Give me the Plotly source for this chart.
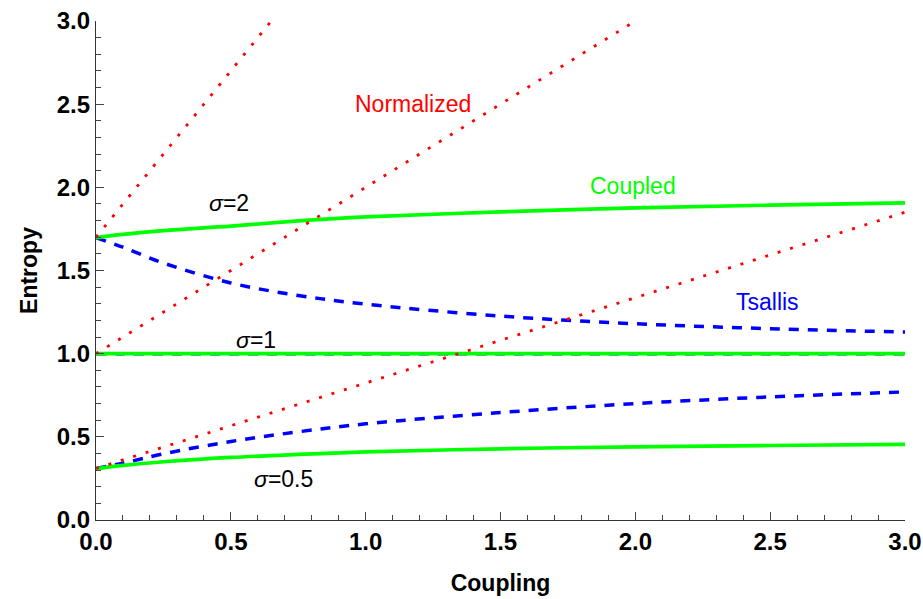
import plotly.graph_objects as go

# Coupling values at which the curves were read
kappa = [0.0, 0.1, 0.25, 0.5, 0.75, 1.0, 1.5, 2.0, 2.5, 3.0]

# Coupled entropy (green, solid)
coupled_s2 = [1.697, 1.717, 1.740, 1.767, 1.798, 1.822, 1.852, 1.876, 1.893, 1.907]
coupled_s1 = [1.0, 1.0, 1.0, 1.0, 1.0, 1.0, 1.0, 1.0, 1.0, 1.0]
coupled_s05 = [0.308, 0.328, 0.350, 0.376, 0.394, 0.409, 0.428, 0.440, 0.448, 0.455]

# Tsallis entropy (blue, dashed)
tsallis_s2 = [1.697, 1.640, 1.545, 1.425, 1.350, 1.298, 1.226, 1.180, 1.150, 1.130]
tsallis_s1 = [1.0, 1.0, 1.0, 1.0, 1.0, 1.0, 1.0, 1.0, 1.0, 1.0]
tsallis_s05 = [0.310, 0.342, 0.398, 0.472, 0.530, 0.578, 0.646, 0.700, 0.740, 0.770]

# Normalized entropy (red, dotted) - straight lines
norm_s2_x = [0.0, 0.65]
norm_s2_y = [1.70, 3.0]
norm_s1_x = [0.0, 2.0]
norm_s1_y = [1.0, 3.0]
norm_s05_x = [0.0, 3.0]
norm_s05_y = [0.31, 1.85]

GREEN = "#00ff00"
BLUE = "#0000ff"
RED = "#ff0000"

fig = go.Figure()

for ys in (tsallis_s2, tsallis_s1, tsallis_s05):
    fig.add_trace(go.Scatter(x=kappa, y=ys, mode="lines",
                             line=dict(color=BLUE, width=3.5, dash="10px,9px", shape="spline"),
                             showlegend=False, hoverinfo="skip"))

for ys in (coupled_s2, coupled_s1, coupled_s05):
    fig.add_trace(go.Scatter(x=kappa, y=ys, mode="lines",
                             line=dict(color=GREEN, width=3.7, shape="spline"),
                             showlegend=False, hoverinfo="skip"))

for xs, ys in ((norm_s2_x, norm_s2_y), (norm_s1_x, norm_s1_y), (norm_s05_x, norm_s05_y)):
    fig.add_trace(go.Scatter(x=xs, y=ys, mode="lines",
                             line=dict(color=RED, width=2.8, dash="3px,10px"),
                             showlegend=False, hoverinfo="skip"))

FONT = "Liberation Sans, Arial, sans-serif"

annotations = [
    dict(x=1.175, y=2.50, text="Normalized", color=RED),
    dict(x=1.993, y=2.01, text="Coupled", color=GREEN),
    dict(x=2.49, y=1.31, text="Tsallis", color=BLUE),
    dict(x=0.495, y=1.905, text="<i>σ</i>=2", color="black"),
    dict(x=0.593, y=1.085, text="<i>σ</i>=1", color="black"),
    dict(x=0.697, y=0.244, text="<i>σ</i>=0.5", color="black"),
]
for a in annotations:
    fig.add_annotation(x=a["x"], y=a["y"], text=a["text"], showarrow=False,
                       xanchor="center", yanchor="middle",
                       font=dict(family=FONT, size=23, color=a["color"]))

axis_common = dict(
    range=[0, 3],
    automargin=False,
    showgrid=False,
    zeroline=False,
    showline=True,
    linecolor="#333333",
    linewidth=1.2,
    ticks="inside",
    ticklen=8,
    tickwidth=1.2,
    tickcolor="#444444",
    dtick=0.5,
    tick0=0,
    tickformat=".1f",
    tickfont=dict(family=FONT, size=24, color="black", weight="bold"),
    minor=dict(ticks="inside", ticklen=4.5, tickwidth=1, tickcolor="#444444", dtick=0.1, showgrid=False),
)

fig.update_xaxes(**axis_common,
                 title=dict(text="Coupling", font=dict(family=FONT, size=23, color="black", weight="bold"),
                            standoff=20))
fig.update_yaxes(**axis_common,
                 title=dict(text="Entropy", font=dict(family=FONT, size=23, color="black", weight="bold"),
                            standoff=12))

fig.update_layout(
    width=923, height=599,
    margin=dict(l=96, r=18, t=21, b=79),
    paper_bgcolor="white",
    plot_bgcolor="white",
    showlegend=False,
)

fig.write_html("out.html",
               config={"displayModeBar": False},
               post_script="document.body.style.margin='0';document.body.style.overflow='hidden';")
